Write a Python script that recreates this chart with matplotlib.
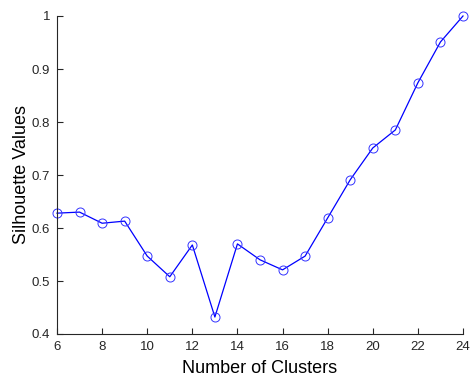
import matplotlib
matplotlib.use("Agg")
import matplotlib.pyplot as plt

clusters = [6, 7, 8, 9, 10, 11, 12, 13, 14, 15, 16, 17, 18, 19, 20, 21, 22, 23, 24]
silhouette = [0.628, 0.630, 0.609, 0.613, 0.547, 0.508, 0.568, 0.432, 0.570, 0.540,
              0.521, 0.547, 0.619, 0.691, 0.751, 0.785, 0.874, 0.951, 1.0]
xticks = [6, 8, 10, 12, 14, 16, 18, 20, 22, 24]
yticks = [0.4, 0.5, 0.6, 0.7, 0.8, 0.9, 1.0]
yticklabels = ["0.4", "0.5", "0.6", "0.7", "0.8", "0.9", "1"]

plt.rcParams['font.family'] = ['Liberation Sans', 'DejaVu Sans']
fig = plt.figure(figsize=(4.7, 3.74), dpi=100)
ax = fig.add_axes([57/470, 1-334/374, (463-57)/470, (334-16)/374])
ax.plot(clusters, silhouette, color=(0, 0, 1), linewidth=0.9, marker='o',
        markersize=6.5, markerfacecolor='none', markeredgecolor=(0.2, 0.2, 1),
        markeredgewidth=0.7, clip_on=False)
ax.set_xlim(6, 24)
ax.set_ylim(0.4, 1.0)
ax.set_xticks(xticks)
ax.set_yticks(yticks)
ax.set_yticklabels(yticklabels)
axcol = '#262626'
for s in ['top', 'right']:
    ax.spines[s].set_visible(False)
for s in ['left', 'bottom']:
    ax.spines[s].set_color(axcol)
    ax.spines[s].set_linewidth(0.8)
ax.tick_params(direction='in', length=4, width=0.8, color=axcol, labelcolor=axcol,
               labelsize=9.5, pad=5)
ax.set_xlabel('Number of Clusters', fontsize=13, color='black', labelpad=5)
ax.set_ylabel('Silhouette Values', fontsize=13, color='black', labelpad=1)
fig.savefig('out.png', dpi=100)
